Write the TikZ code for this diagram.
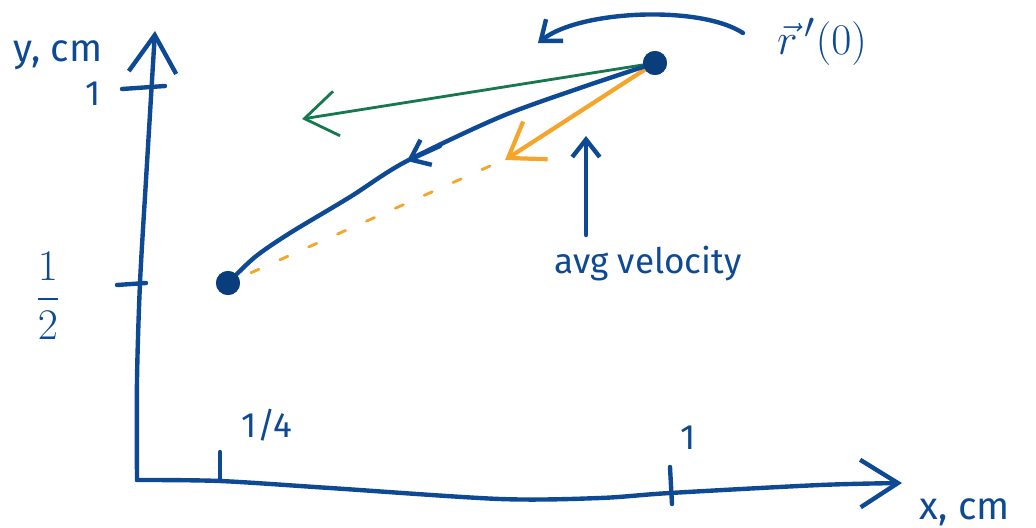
\documentclass[tikz,border=0pt]{standalone}
\usepackage{fontspec}
\setmainfont{Fira Sans}
\usepackage{xcolor}
\usepackage{tikz}
\usetikzlibrary{arrows.meta,calc,positioning}
\definecolor{SketchBlue}{HTML}{0E4A94}
\definecolor{SketchDot}{HTML}{0A3D7C}
\definecolor{SketchGreen}{HTML}{17774F}
\definecolor{SketchOrange}{HTML}{F4A52A}
\RequirePackage{amsmath}

\begin{document}
\begin{tikzpicture}[x=0.02cm,y=-0.02cm,line cap=round,line join=round]
  \tikzset{
    ink/.style={SketchBlue,line width=2.5pt},
    bigbarb/.style={-{Straight Barb[length=0.75cm,width=0.95cm,line width=2.5pt]}},
    midbarb/.style={-{Straight Barb[length=0.65cm,width=0.9cm]}},
    tinybarb/.style={-{Straight Barb[length=0.35cm,width=0.55cm]}},
    lbl/.style={SketchBlue,inner sep=0pt,font=\fontsize{20}{24}\selectfont},
    dot/.style={circle,fill=SketchDot,inner sep=0pt,minimum size=0.48cm}}
  \useasboundingbox (0,0) rectangle (1036,528);
  % axes
  \coordinate (O) at (137,480);
  \coordinate (Ytip) at (155,31);
  \coordinate (Xtip) at (902,483);
  \draw[ink,bigbarb] plot[smooth] coordinates {(O) (137,380) (140,283) (146,180) (Ytip)};
  \draw[ink,bigbarb] plot[smooth] coordinates {(O) (220,481) (330,488) (500,499)
    (600,498) (670,493) (820,485) (Xtip)};
  \node[lbl,font=\fontsize{22}{26}\selectfont] (ylabel) at (58,55) {y, cm};
  \node[lbl,font=\fontsize{22}{26}\selectfont] (xlabel) at (965,512) {x, cm};
  % ticks
  \draw[ink] (122,89) -- (165,86);
  \draw[ink] (117,285) -- (146,283);
  \draw[ink] (220,452) -- (220,481);
  \draw[ink] (670,467) -- (672,504);
  \node[lbl] (yone) at (93,94) {1};
  \node[lbl,font=\fontsize{24}{28}\selectfont] (yhalf) at (48,296) {$\displaystyle\frac{1}{2}$};
  \node[lbl] (xquarter) at (267,425) {1/4};
  \node[lbl] (xone) at (688,438) {1};
  % path, tangent and secant
  \node[dot] (start) at (228,283) {};
  \node[dot] (end) at (655,63) {};
  \coordinate (greenTip) at (302,119);
  \coordinate (orangeTip) at (505,160);
  \draw[SketchOrange,line width=1.6pt,dash pattern=on 5pt off 13pt] (490,166) -- (start);
  \draw[SketchGreen,line width=1.6pt,midbarb] (end) -- (greenTip);
  \draw[SketchOrange,line width=2.4pt,midbarb] (end) -- (orangeTip);
  \draw[ink] plot[smooth] coordinates {(end) (580,88) (500,117) (405,162)
    (350,197) (290,233) (255,257) (start)};
  \draw[ink,tinybarb] (440,146) -- (407,161);
  \node[dot] at (start) {};
  \node[dot] at (end) {};
  % labels
  \node[lbl] (avg) at (648,264) {avg velocity};
  \coordinate (velTail) at (586,235);
  \coordinate (velTip) at (586,136);
  \draw[ink,tinybarb] (velTail) -- (velTip);
  \node[lbl,font=\fontsize{30}{34}\selectfont] (rprime) at (822,42) {$\vec{r}\,'(0)$};
  \coordinate (curlStart) at (743,33);
  \coordinate (curlEnd) at (538,43);
  \draw[ink,tinybarb] (curlStart) .. controls (700,5) and (580,10) .. (curlEnd);
\end{tikzpicture}
\end{document}
